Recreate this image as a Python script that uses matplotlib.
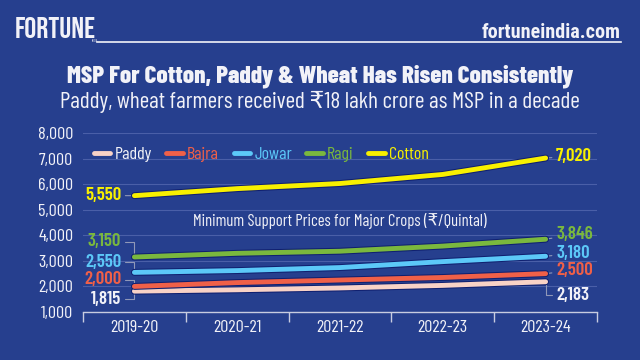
import matplotlib
matplotlib.use("Agg")
import matplotlib.pyplot as plt
import matplotlib.patheffects as pe
import numpy as np

years = ["2019-20", "2020-21", "2021-22", "2022-23", "2023-24"]
paddy = [1815, 1868, 1940, 2040, 2183]
bajra = [2000, 2150, 2250, 2350, 2500]
jowar = [2550, 2620, 2738, 2970, 3180]
ragi = [3150, 3295, 3377, 3578, 3846]
cotton = [5550, 5825, 6025, 6380, 7020]
series_names = ["Paddy", "Bajra", "Jowar", "Ragi", "Cotton"]
yticks = [1000, 2000, 3000, 4000, 5000, 6000, 7000, 8000]

BG = "#263F8E"
NAVY = "#102070"
WHITE = "#F2F2F8"
colors = {"Paddy": "#F8D2C6", "Bajra": "#F06048", "Jowar": "#5CC8F8",
          "Ragi": "#7AB83E", "Cotton": "#F8F000"}
text_colors = {"Paddy": WHITE, "Bajra": "#F06048", "Jowar": "#5CC8F8",
               "Ragi": "#7AB83E", "Cotton": "#F8F000"}

FAM = ["Barlow Condensed", "DejaVu Sans"]
plt.rcParams["font.family"] = FAM

fig = plt.figure(figsize=(6.4, 3.6), dpi=100, facecolor=BG)
W, H = 640, 360
ax = fig.add_axes([83 / W, 1 - 312 / H, (597 - 83) / W, (312 - 133) / H])
ax.set_facecolor(BG)

data = {"Paddy": paddy, "Bajra": bajra, "Jowar": jowar, "Ragi": ragi, "Cotton": cotton}
x = np.arange(len(years))
for name in series_names:
    ax.plot(x, data[name], color=colors[name], lw=3.5, solid_capstyle="round",
            label=name, zorder=3,
            path_effects=[pe.Stroke(linewidth=5.0, foreground=NAVY), pe.Normal()])

ax.set_xlim(-0.5, len(years) - 0.5)
ax.set_ylim(1000, 8000)
ax.set_yticks(yticks)
ax.set_yticklabels([f"{v:,}" for v in yticks])
ax.set_xticks(x)
ax.set_xticklabels(years)
ax.set_xticks(np.arange(-0.5, len(years), 1.0), minor=True)
ax.tick_params(axis="y", length=0, pad=7, labelsize=13, labelcolor=WHITE)
ax.tick_params(axis="x", which="major", length=0, pad=6, labelsize=13, labelcolor=WHITE)
ax.tick_params(axis="x", which="minor", length=7, width=1, color="#C8CCE0", direction="out")
ax.grid(axis="y", color="#4A5FA8", lw=0.8)
ax.set_axisbelow(True)
for s in ["top", "right", "left"]:
    ax.spines[s].set_visible(False)
ax.spines["bottom"].set_color("#C8CCE0")
ax.spines["bottom"].set_linewidth(1)

# value labels
left_off = {"Paddy": -5.7, "Bajra": 4.9, "Jowar": 7.4, "Ragi": 11, "Cotton": 0}
right_off = {"Paddy": -9.6, "Bajra": 2.4, "Jowar": 2.0, "Ragi": 3.4, "Cotton": 1.4}
for name in series_names:
    vals = data[name]
    ax.annotate(f"{vals[0]:,}", xy=(x[0], vals[0]), xytext=(-9.5, left_off[name]),
                textcoords="offset points", ha="right", va="center",
                fontsize=13.5, fontweight="semibold", color=text_colors[name],
                arrowprops=dict(arrowstyle="-", color="#9098B8", lw=0.8,
                                shrinkA=1, shrinkB=2,
                                connectionstyle="angle,angleA=0,angleB=90,rad=0"
                                if left_off[name] != 0 else "arc3"),
                annotation_clip=False, zorder=2)
    ax.annotate(f"{vals[-1]:,}", xy=(x[-1], vals[-1]), xytext=(7.5, right_off[name]),
                textcoords="offset points", ha="left", va="center",
                fontsize=13.5, fontweight="semibold", color=text_colors[name],
                arrowprops=dict(arrowstyle="-", color="#9098B8", lw=0.8,
                                shrinkA=1, shrinkB=2,
                                connectionstyle="angle,angleA=0,angleB=90,rad=0"
                                if abs(right_off[name]) > 5 else "arc3"),
                annotation_clip=False, zorder=2)

ax.text(0.5, 0.508, "Minimum Support Prices for Major Crops (₹/Quintal)",
        transform=ax.transAxes, ha="center", va="center", fontsize=12, color=WHITE)

leg = ax.legend(loc="upper left", bbox_to_anchor=(0.0, 0.985), ncol=5, frameon=False,
                handlelength=0.9, handletextpad=0.25, columnspacing=0.8,
                fontsize=13, borderaxespad=0.2)
for t, name in zip(leg.get_texts(), series_names):
    t.set_color(text_colors[name])
for h in leg.legend_handles:
    h.set_linewidth(3.5)
    h.set_solid_capstyle("round")
    h.set_path_effects([])

# header
fig.text(15 / W, 1 - 28 / H, "FORTUNE", fontsize=21.5, color=WHITE,
         ha="left", va="center", family=["Bebas Neue", "DejaVu Sans"])
fig.text(92 / W, 1 - 41 / H, "INDIA", fontsize=2.5, color=WHITE,
         ha="left", va="center", family=["Barlow Condensed", "DejaVu Sans"])
fig.text(621 / W, 1 - 33 / H, "fortuneindia.com", fontsize=14.5, fontweight="bold", color=WHITE,
         ha="right", va="center", family=["Roboto Condensed", "DejaVu Sans"])
fig.add_artist(plt.Line2D([97 / W, 621 / W], [1 - 42 / H, 1 - 42 / H], color=WHITE, lw=1.2))
fig.text(0.5, 1 - 76 / H, "MSP For Cotton, Paddy & Wheat Has Risen Consistently",
         fontsize=18, fontweight="heavy", color=WHITE, ha="center", va="center")
fig.text(0.5, 1 - 102 / H, "Paddy, wheat farmers received ₹18 lakh crore as MSP in a decade",
         fontsize=16.8, color=WHITE, ha="center", va="center")

fig.savefig("out.png", dpi=100, facecolor=BG)
